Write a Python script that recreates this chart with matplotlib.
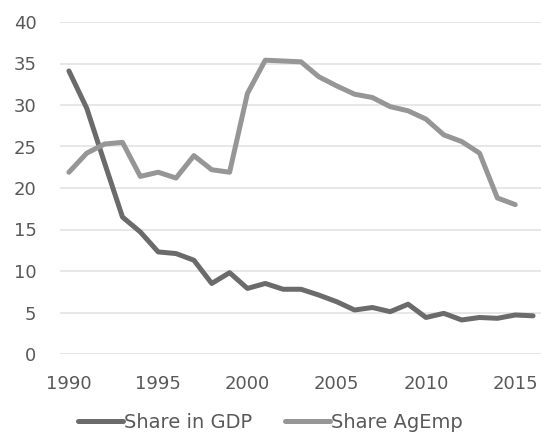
import matplotlib.pyplot as plt

years = list(range(1990, 2017))
share_gdp = [34.1, 29.6, 23.0, 16.5, 14.7, 12.3, 12.1, 11.3, 8.5, 9.8,
             7.9, 8.5, 7.8, 7.8, 7.1, 6.3, 5.3, 5.6, 5.1, 6.0,
             4.4, 4.9, 4.1, 4.4, 4.3, 4.7, 4.6]
share_agemp = [21.9, 24.2, 25.3, 25.5, 21.4, 21.9, 21.2, 23.9, 22.2, 21.9,
               31.4, 35.4, 35.3, 35.2, 33.4, 32.3, 31.3, 30.9, 29.8, 29.3,
               28.3, 26.4, 25.6, 24.2, 18.8, 18.0]
x_ticks = [1990, 1995, 2000, 2005, 2010, 2015]
y_ticks = [0, 5, 10, 15, 20, 25, 30, 35, 40]

plt.rcParams['font.family'] = 'DejaVu Sans'

fig = plt.figure(figsize=(5.41, 4.33), dpi=100)
ax = fig.add_axes([60 / 541, 1 - 354 / 433, 482 / 541, 332 / 433])

ax.plot(years, share_gdp, color="#6b6b6b", lw=3.6, label="Share in GDP",
        solid_joinstyle="round", solid_capstyle="round")
ax.plot(years[:len(share_agemp)], share_agemp, color="#969696", lw=3.6,
        label="Share AgEmp", solid_joinstyle="round", solid_capstyle="round")

ax.set_xlim(1989.5, 2016.5)
ax.set_ylim(0, 40)
ax.set_xticks(x_ticks)
ax.set_yticks(y_ticks)
ax.grid(axis="y", color="#e3e3e3", lw=1.2)
ax.set_axisbelow(True)
for s in ax.spines.values():
    s.set_visible(False)
ax.tick_params(length=0, labelsize=13, colors="#595959")
ax.tick_params(axis="y", pad=17)
ax.tick_params(axis="x", pad=15)

leg = fig.legend(loc="center", bbox_to_anchor=(0.5, 1 - 422 / 433), ncol=2,
                 frameon=False, fontsize=14, handlelength=2.3,
                 handletextpad=0.05, columnspacing=1.7)
for t in leg.get_texts():
    t.set_color("#595959")

plt.savefig("out.png", dpi=100)
